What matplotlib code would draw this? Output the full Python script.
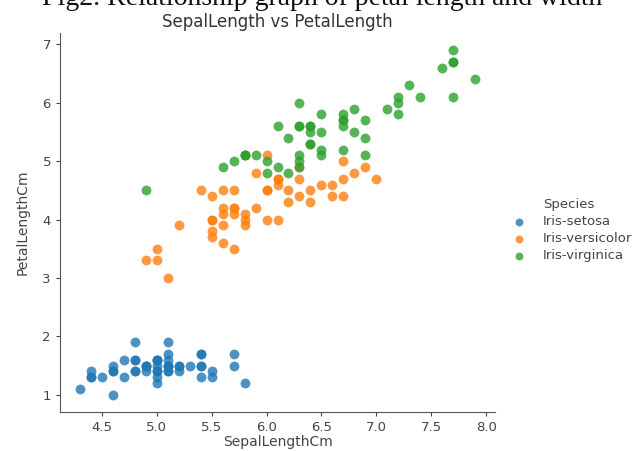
import matplotlib
matplotlib.use('Agg')
import matplotlib.pyplot as plt

# Iris: SepalLengthCm / PetalLengthCm per species
species = ['Iris-setosa', 'Iris-versicolor', 'Iris-virginica']
colors = ['#1f77b4', '#ff7f0e', '#2ca02c']

setosa_sepal = [5.1, 4.9, 4.7, 4.6, 5.0, 5.4, 4.6, 5.0, 4.4, 4.9, 5.4, 4.8, 4.8, 4.3, 5.8, 5.7, 5.4,
                5.1, 5.7, 5.1, 5.4, 5.1, 4.6, 5.1, 4.8, 5.0, 5.0, 5.2, 5.2, 4.7, 4.8, 5.4, 5.2, 5.5,
                4.9, 5.0, 5.5, 4.9, 4.4, 5.1, 5.0, 4.5, 4.4, 5.0, 5.1, 4.8, 5.1, 4.6, 5.3, 5.0]
setosa_petal = [1.4, 1.4, 1.3, 1.5, 1.4, 1.7, 1.4, 1.5, 1.4, 1.5, 1.5, 1.6, 1.4, 1.1, 1.2, 1.5, 1.3,
                1.4, 1.7, 1.5, 1.7, 1.5, 1.0, 1.7, 1.9, 1.6, 1.6, 1.5, 1.4, 1.6, 1.6, 1.5, 1.5, 1.4,
                1.5, 1.2, 1.3, 1.5, 1.3, 1.5, 1.3, 1.3, 1.3, 1.6, 1.9, 1.4, 1.6, 1.4, 1.5, 1.4]
versicolor_sepal = [7.0, 6.4, 6.9, 5.5, 6.5, 5.7, 6.3, 4.9, 6.6, 5.2, 5.0, 5.9, 6.0, 6.1, 5.6, 6.7, 5.6,
                    5.8, 6.2, 5.6, 5.9, 6.1, 6.3, 6.1, 6.4, 6.6, 6.8, 6.7, 6.0, 5.7, 5.5, 5.5, 5.8, 6.0,
                    5.4, 6.0, 6.7, 6.3, 5.6, 5.5, 5.5, 6.1, 5.8, 5.0, 5.6, 5.7, 5.7, 6.2, 5.1, 5.7]
versicolor_petal = [4.7, 4.5, 4.9, 4.0, 4.6, 4.5, 4.7, 3.3, 4.6, 3.9, 3.5, 4.2, 4.0, 4.7, 3.6, 4.4, 4.5,
                    4.1, 4.5, 3.9, 4.8, 4.0, 4.9, 4.7, 4.3, 4.4, 4.8, 5.0, 4.5, 3.5, 3.8, 3.7, 3.9, 5.1,
                    4.5, 4.5, 4.7, 4.4, 4.1, 4.0, 4.4, 4.6, 4.0, 3.3, 4.2, 4.2, 4.2, 4.3, 3.0, 4.1]
virginica_sepal = [6.3, 5.8, 7.1, 6.3, 6.5, 7.6, 4.9, 7.3, 6.7, 7.2, 6.5, 6.4, 6.8, 5.7, 5.8, 6.4, 6.5,
                   7.7, 7.7, 6.0, 6.9, 5.6, 7.7, 6.3, 6.7, 7.2, 6.2, 6.1, 6.4, 7.2, 7.4, 7.9, 6.4, 6.3,
                   6.1, 7.7, 6.3, 6.4, 6.0, 6.9, 6.7, 6.9, 5.8, 6.8, 6.7, 6.7, 6.3, 6.5, 6.2, 5.9]
virginica_petal = [6.0, 5.1, 5.9, 5.6, 5.8, 6.6, 4.5, 6.3, 5.8, 6.1, 5.1, 5.3, 5.5, 5.0, 5.1, 5.3, 5.5,
                   6.7, 6.9, 5.0, 5.7, 4.9, 6.7, 4.9, 5.7, 6.0, 4.8, 4.9, 5.6, 5.8, 6.1, 6.4, 5.6, 5.1,
                   5.6, 6.1, 5.6, 5.5, 4.8, 5.4, 5.6, 5.1, 5.1, 5.9, 5.7, 5.2, 5.0, 5.2, 5.4, 5.1]

sepal = [setosa_sepal, versicolor_sepal, virginica_sepal]
petal = [setosa_petal, versicolor_petal, virginica_petal]

fig = plt.figure(figsize=(6.37, 4.51), dpi=100)
ax = fig.add_axes([60/637, 1 - 412/451, 435/637, 379/451])

for i in range(len(species)):
    ax.scatter(sepal[i], petal[i], s=50, color=colors[i], alpha=0.8,
               linewidths=0, label=species[i])

ax.set_xlim(4.12, 8.08)
ax.set_ylim(0.705, 7.195)
ax.set_xticks([4.5, 5.0, 5.5, 6.0, 6.5, 7.0, 7.5, 8.0])
ax.set_yticks([1, 2, 3, 4, 5, 6, 7])
for s in ['top', 'right']:
    ax.spines[s].set_visible(False)
for s in ['left', 'bottom']:
    ax.spines[s].set_color('#555555')
ax.tick_params(labelsize=9.5, colors='#444444', length=3)
ax.set_xlabel('SepalLengthCm', fontsize=10, color='#444444', labelpad=1)
ax.set_ylabel('PetalLengthCm', fontsize=10, color='#444444', labelpad=9)
ax.set_title('SepalLength vs PetalLength', fontsize=12, color='#333333', pad=4)

leg = ax.legend(title='Species', loc='center left', bbox_to_anchor=(1.0, 0.48),
                frameon=False, fontsize=9.5, title_fontsize=9.5, handletextpad=0.8,
                labelspacing=0.3, markerscale=0.8, borderpad=0.3)
for t in leg.get_texts():
    t.set_color('#444444')
leg.get_title().set_color('#444444')

# caption cut off at the top of the picture
fig.text(0.505, 1 - 5/451, 'Fig2. Relationship graph of petal length and width',
         family='Liberation Serif', fontsize=20, ha='center', va='baseline', color='#111111')

fig.savefig('out.png', dpi=100)
